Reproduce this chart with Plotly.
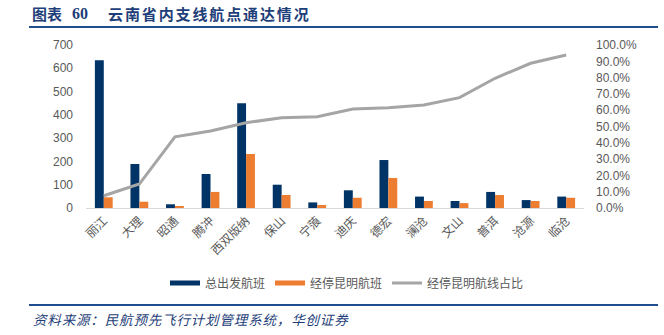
import plotly.graph_objects as go

categories = ["丽江", "大理", "昭通", "腾冲", "西双版纳", "保山", "宁蒗", "迪庆",
              "德宏", "澜沧", "文山", "普洱", "沧源", "临沧"]
total_flights = [635, 189, 16, 146, 450, 100, 24, 76, 206, 49, 30, 69, 34, 49]
kunming_flights = [46, 27, 6, 69, 232, 56, 13, 44, 129, 30, 21, 56, 30, 44]
kunming_share = [0.075, 0.147, 0.437, 0.472, 0.523, 0.554, 0.560, 0.607,
                 0.615, 0.632, 0.677, 0.796, 0.888, 0.939]

title_label = "图表"
title_num = "60"
title_text = "云南省内支线航点通达情况"
source_text = "资料来源：民航预先飞行计划管理系统，华创证券"

NAVY = "#003366"
ORANGE = "#ED7D31"
GREY = "#A5A5A5"
TXT = "#595959"
BLUE = "#1F4E8C"
TITLE_COL = "#1F3F7A"
FONT = "Noto Sans CJK SC"

L, R, T, B = 86, 80, 45, 127
W, H = 664, 335
pw, ph = W - L - R, H - T - B

def px(x):
    return (x - L) / pw

def py(y):
    return (H - B - y) / ph

def spaced(s, sp):
    return sp.join(list(s))

fig = go.Figure()
fig.add_trace(go.Bar(x=categories, y=total_flights, name="总出发航班",
                     marker=dict(color=NAVY, line=dict(width=0)), showlegend=False))
fig.add_trace(go.Bar(x=categories, y=kunming_flights, name="经停昆明航班",
                     marker=dict(color=ORANGE, line=dict(width=0)), showlegend=False))
fig.add_trace(go.Scatter(x=categories, y=kunming_share, name="经停昆明航线占比",
                         mode="lines", line=dict(color=GREY, width=3),
                         yaxis="y2", showlegend=False))
# legend entries
for nm, col, wd in [("总出发航班", NAVY, 5), ("经停昆明航班", ORANGE, 5),
                    ("经停昆明航线占比", GREY, 3)]:
    fig.add_trace(go.Scatter(x=[None], y=[None], mode="lines", name=nm,
                             line=dict(color=col, width=wd), showlegend=True))

fig.update_layout(
    width=W, height=H,
    margin=dict(l=L, r=R, t=T, b=B, pad=0),
    paper_bgcolor="white", plot_bgcolor="white",
    font=dict(family=FONT, size=12, color=TXT),
    barmode="group", bargap=0.5, bargroupgap=0,
    xaxis=dict(type="category", tickangle=-45, showline=True, linecolor="#D9D9D9",
               linewidth=1, ticks="", tickfont=dict(size=12, color=TXT)),
    yaxis=dict(range=[0, 700], dtick=100, showgrid=False, zeroline=False,
               showline=False, ticks="", ticklabelstandoff=12,
               tickfont=dict(family="Liberation Sans", size=12, color=TXT)),
    yaxis2=dict(range=[0, 1], dtick=0.1, tickformat=".1%", overlaying="y",
                side="right", showgrid=False, zeroline=False, showline=False,
                ticks="", ticklabelstandoff=11,
                tickfont=dict(family="Liberation Sans", size=12, color=TXT)),
    legend=dict(orientation="h", x=px(165), y=py(283), xanchor="left",
                yanchor="middle", font=dict(size=12, color=TXT),
                itemwidth=30, tracegroupgap=0, bgcolor="rgba(0,0,0,0)"),
    showlegend=True,
)

fig.add_annotation(text="<b>" + title_label + "</b>", xref="paper", yref="paper",
                   x=px(30), y=py(14), xanchor="left", yanchor="middle",
                   showarrow=False, font=dict(family=FONT, size=15, color=TITLE_COL))
fig.add_annotation(text="<b>" + title_num + "</b>", xref="paper", yref="paper",
                   x=px(70), y=py(14), xanchor="left", yanchor="middle",
                   showarrow=False, font=dict(family="Liberation Serif", size=16, color=TITLE_COL))
fig.add_annotation(text="<b>" + spaced(title_text, "\u200a\u200a") + "</b>",
                   xref="paper", yref="paper",
                   x=px(106), y=py(14), xanchor="left", yanchor="middle",
                   showarrow=False, font=dict(family=FONT, size=15, color=TITLE_COL))
fig.add_annotation(text="<i>" + spaced(source_text, "\u200a") + "</i>", xref="paper", yref="paper",
                   x=px(31), y=py(319), xanchor="left", yanchor="middle",
                   showarrow=False, font=dict(family=FONT, size=13.5, color=TITLE_COL))
fig.add_shape(type="line", xref="paper", yref="paper", x0=px(29), x1=px(658),
              y0=py(27), y1=py(27), line=dict(color=BLUE, width=2))
fig.add_shape(type="line", xref="paper", yref="paper", x0=px(29), x1=px(658),
              y0=py(305), y1=py(305), line=dict(color=BLUE, width=2))

fig.write_html("out.html")
